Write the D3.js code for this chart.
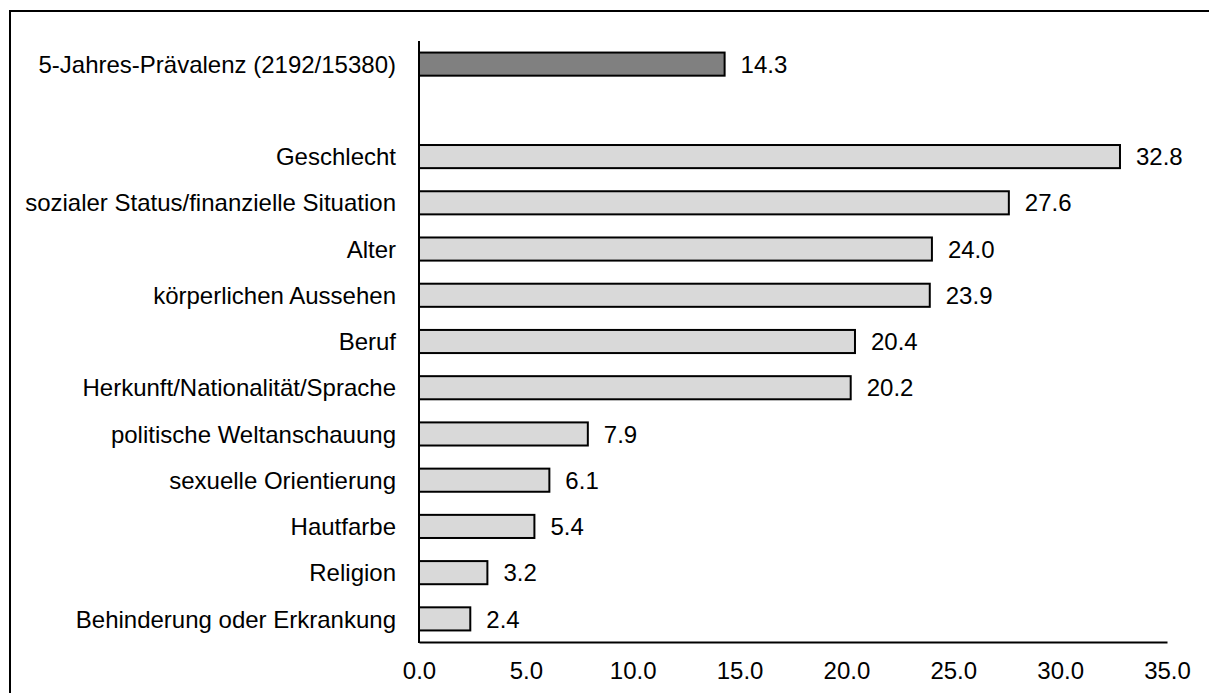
<!DOCTYPE html>
<html>
<head>
<meta charset="utf-8">
<script src="https://cdn.jsdelivr.net/npm/d3@7/dist/d3.min.js"></script>
<style>
  html, body { margin: 0; padding: 0; background: #fff; }
  svg { display: block; }
  text { font-family: "Liberation Sans", Arial, sans-serif; fill: #000; }
</style>
</head>
<body>
<svg id="chart" width="1209" height="693"></svg>
<script>
const categories = [
  "5-Jahres-Prävalenz (2192/15380)",
  "",
  "Geschlecht",
  "sozialer Status/finanzielle Situation",
  "Alter",
  "körperlichen Aussehen",
  "Beruf",
  "Herkunft/Nationalität/Sprache",
  "politische Weltanschauung",
  "sexuelle Orientierung",
  "Hautfarbe",
  "Religion",
  "Behinderung oder Erkrankung"
];
const values = [14.3, null, 32.8, 27.6, 24.0, 23.9, 20.4, 20.2, 7.9, 6.1, 5.4, 3.2, 2.4];
const highlighted = [true, false, false, false, false, false, false, false, false, false, false, false, false];
const tickValues = [0, 5, 10, 15, 20, 25, 30, 35];

(function () {
const svg = d3.select("#chart");
const W = 1209, H = 693;
const mLeft = 419, mRight = 1167, mTop = 41, mBottom = 642;
const fontSize = 24;

// outer frame (extends past the picture on the right and bottom)
svg.append("rect")
  .attr("x", 10).attr("y", 11)
  .attr("width", W + 20).attr("height", H + 20)
  .attr("fill", "none").attr("stroke", "#000").attr("stroke-width", 2);

const x = d3.scaleLinear().domain([0, 35]).range([mLeft, mRight]);
const y = d3.scaleBand().domain(categories.map((c, i) => i))
  .range([mTop, mBottom]).paddingInner(0.5).paddingOuter(0.25);

const rows = categories.map((c, i) => ({ label: c, value: values[i], hi: highlighted[i], i }));
const barRows = rows.filter(r => r.value !== null);

// bars
svg.append("g").selectAll("rect").data(barRows).join("rect")
  .attr("x", x(0))
  .attr("y", d => y(d.i))
  .attr("width", d => x(d.value) - x(0))
  .attr("height", y.bandwidth())
  .attr("fill", d => d.hi ? "#808080" : "#d9d9d9")
  .attr("stroke", "#000").attr("stroke-width", 2);

// value labels
svg.append("g").selectAll("text").data(barRows).join("text")
  .attr("x", d => x(d.value) + 16)
  .attr("y", d => y(d.i) + y.bandwidth() / 2)
  .attr("dy", "0.36em")
  .attr("font-size", fontSize)
  .text(d => d3.format(".1f")(d.value));

// category labels
svg.append("g").selectAll("text").data(rows.filter(r => r.label !== "")).join("text")
  .attr("x", mLeft - 23)
  .attr("y", d => y(d.i) + y.bandwidth() / 2)
  .attr("dy", "0.36em")
  .attr("text-anchor", "end")
  .attr("font-size", fontSize)
  .text(d => d.label);

// x axis
const xAxis = d3.axisBottom(x).tickValues(tickValues)
  .tickFormat(d3.format(".1f")).tickSize(0).tickSizeOuter(0).tickPadding(20);
const gx = svg.append("g").attr("transform", `translate(0,${mBottom})`).call(xAxis);
gx.select(".domain").attr("stroke", "#000").attr("stroke-width", 2);
gx.selectAll("text").attr("font-size", fontSize)
  .attr("font-family", '"Liberation Sans", Arial, sans-serif').attr("fill", "#000");

// y axis line
svg.append("line")
  .attr("x1", mLeft).attr("x2", mLeft)
  .attr("y1", mTop).attr("y2", mBottom + 1)
  .attr("stroke", "#000").attr("stroke-width", 2);
})();
</script>
</body>
</html>
